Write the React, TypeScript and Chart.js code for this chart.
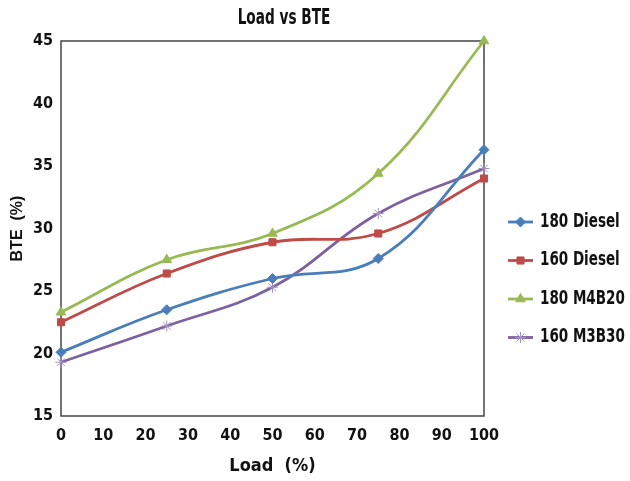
import React, { useEffect, useRef } from "react";
import { Chart, registerables } from "chart.js";
import { drawPoint } from "chart.js/helpers";

Chart.register(...registerables);

const chartTitle = "Load vs BTE";
const xTitle = "Load  (%)";
const yTitle = "BTE  (%)";
const loads = [0, 25, 50, 75, 100];
const diesel180 = [20.1, 23.5, 26.0, 27.6, 36.3];
const diesel160 = [22.5, 26.4, 28.9, 29.6, 34.0];
const m4b20_180 = [23.3, 27.5, 29.6, 34.4, 45.0];
const m3b30_160 = [19.3, 22.2, 25.3, 31.2, 34.8];
const seriesLabels = ["180 Diesel", "160 Diesel", "180 M4B20", "160 M3B30"];
const seriesColors = ["#4A7EBB", "#BE4B48", "#98B954", "#7D60A0"];
const markerColors = ["#4A7EBB", "#BE4B48", "#98B954", "#A392C6"];
const seriesMarkers = ["rectRot", "rect", "triangle", "star"];
const seriesValues = [diesel180, diesel160, m4b20_180, m3b30_160];

const FONT = "'Liberation Sans Narrow', 'DejaVu Sans Condensed', 'Open Sans', sans-serif";

const decor = {
  id: "decor",
  beforeDatasetsDraw(chart: any) {
    const { ctx, chartArea: a } = chart;
    ctx.save();
    ctx.strokeStyle = "#444";
    ctx.lineWidth = 1.5;
    ctx.strokeRect(a.left, a.top, a.right - a.left, a.bottom - a.top);
    ctx.restore();
  },
  afterDraw(chart: any) {
    const { ctx } = chart;
    ctx.save();
    ctx.fillStyle = "#111";
    ctx.font = `bold 22px ${FONT}`;
    ctx.textAlign = "center";
    ctx.textBaseline = "middle";
    ctx.save();
    ctx.translate(284, 18);
    ctx.scale(0.69, 1);
    ctx.fillText(chartTitle, 0, 0);
    ctx.restore();
    chart.data.datasets.forEach((ds: any, i: number) => {
      const y = 222 + i * 38.5;
      ctx.strokeStyle = ds.borderColor;
      ctx.lineWidth = 2.8;
      ctx.beginPath();
      ctx.moveTo(508, y);
      ctx.lineTo(533, y);
      ctx.stroke();
      ctx.lineWidth = 1;
      ctx.strokeStyle = ds.pointBorderColor;
      ctx.fillStyle = ds.pointBackgroundColor;
      drawPoint(ctx, {
        pointStyle: ds.pointStyle,
        radius: ds.pointRadius,
        borderWidth: 1,
        rotation: 0,
      } as any, 520.5, y);
      ctx.fillStyle = "#111";
      ctx.font = `bold 19px ${FONT}`;
      ctx.textAlign = "left";
      ctx.textBaseline = "middle";
      ctx.save();
      ctx.translate(540, y);
      ctx.scale(0.79, 1);
      ctx.fillText(ds.label, 0, 0);
      ctx.restore();
    });
    ctx.restore();
  },
};

export default function App() {
  const ref = useRef<HTMLCanvasElement>(null);
  useEffect(() => {
    if (!ref.current) return;
    const chart = new Chart(ref.current, {
      type: "line",
      data: {
        datasets: seriesLabels.map((label, i) => ({
          label,
          data: loads.map((x, j) => ({ x, y: seriesValues[i][j] })),
          borderColor: seriesColors[i],
          backgroundColor: seriesColors[i],
          pointBackgroundColor: markerColors[i],
          pointBorderColor: markerColors[i],
          pointStyle: seriesMarkers[i],
          pointRadius: seriesMarkers[i] === "star" ? 5.5 : seriesMarkers[i] === "triangle" ? 5.5 : 5,
          pointBorderWidth: 1,
          borderWidth: 2.8,
          tension: 0.4,
          clip: false as any,
        })),
      },
      plugins: [decor],
      options: {
        animation: false,
        responsive: true,
        maintainAspectRatio: false,
        layout: { padding: { left: 0, top: 41, right: 146, bottom: 0 } },
        plugins: { legend: { display: false }, title: { display: false }, tooltip: { enabled: false } },
        scales: {
          x: {
            type: "linear",
            min: 0,
            max: 100,
            grid: { display: false, drawTicks: false },
            border: { display: false },
            ticks: { stepSize: 10, padding: 10, color: "#111", font: { family: FONT, size: 16, weight: "bold" } },
            title: { display: true, text: xTitle, color: "#111", padding: { top: 4, bottom: 4 }, font: { family: FONT, size: 18, weight: "bold" } },
            afterFit: (s: any) => { s.height = 65; },
          },
          y: {
            min: 15,
            max: 45,
            grid: { display: false, drawTicks: false },
            border: { display: false },
            ticks: { stepSize: 5, padding: 8, color: "#111", font: { family: FONT, size: 16, weight: "bold" } },
            title: { display: true, text: yTitle, color: "#111", padding: { top: 8, bottom: 4 }, font: { family: "'Liberation Sans', Arial, sans-serif", size: 16, weight: "bold" } },
            afterFit: (s: any) => { s.width = 61; },
          },
        },
      },
    });
    return () => chart.destroy();
  }, []);
  return (
    <div style={{ position: "fixed", left: 0, top: 0, width: 630, height: 481, background: "#fff" }}>
      <canvas ref={ref} />
    </div>
  );
}
